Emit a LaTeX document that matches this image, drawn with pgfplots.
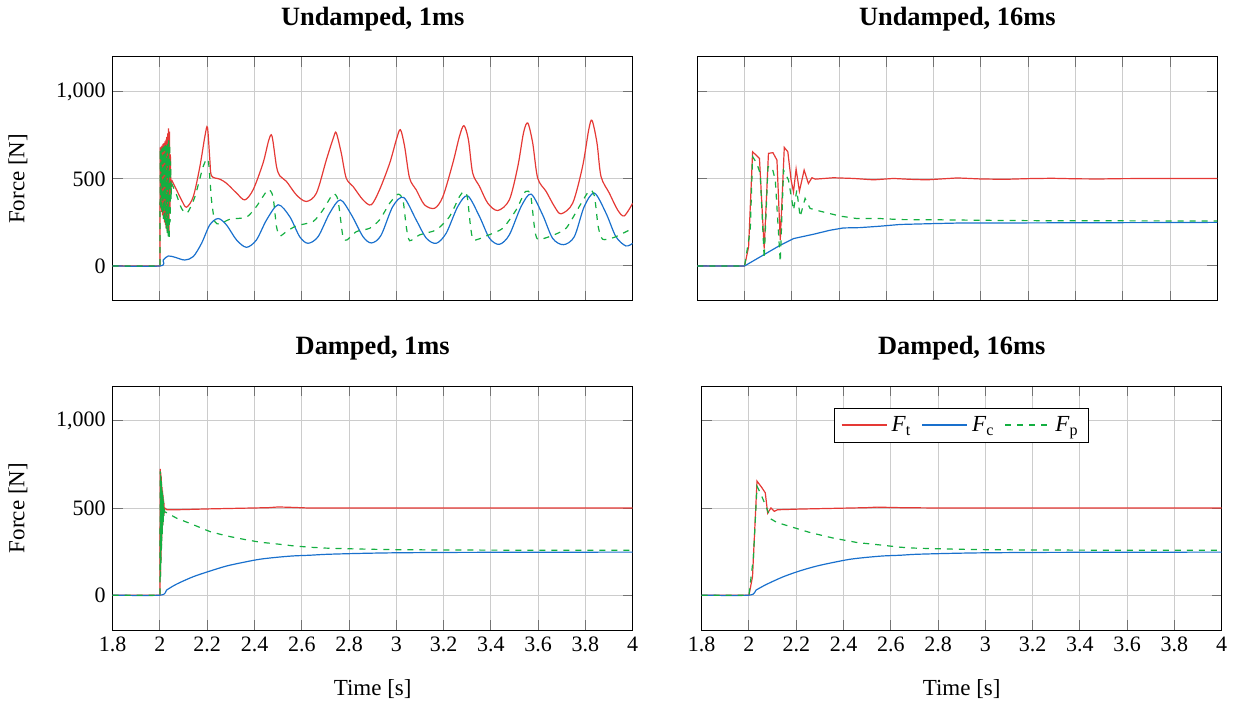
\documentclass[border=0pt]{standalone}
\usepackage{fontspec}
\setmainfont{Liberation Serif}
\usepackage{pgfplots}
\pgfplotsset{compat=1.18}

\definecolor{ftred}{RGB}{229,57,53}
\definecolor{fcblue}{RGB}{25,112,205}
\definecolor{fpgreen}{RGB}{20,175,65}

\pgfplotsset{
  panel/.style={
    scale only axis, width=260pt, height=122pt, anchor=south west,
    xmin=1.8, xmax=4, ymin=-200, ymax=1200,
    xtick={1.8,2,2.2,2.4,2.6,2.8,3,3.2,3.4,3.6,3.8,4},
    ytick={0,500,1000},
    grid=major, major grid style={black!20, line width=0.5pt},
    major tick length=5pt,
    tick style={black!55, line width=0.5pt},
    axis line style={line width=0.5pt},
    /pgf/number format/assume math mode=true,
    tick label style={font=\fontsize{11}{13}\selectfont},
    label style={font=\fontsize{11.5}{14}\selectfont},
    xlabel style={at={(axis description cs:0.5,-0.242)}, anchor=center},
    ylabel style={at={(axis description cs:-0.182,0.5)}, anchor=center},
    every axis title shift=0pt,
    title style={font=\fontsize{13.2}{16}\selectfont\bfseries, at={(0.5,1.155)}, anchor=center},
  },
}

\begin{document}
\begin{tikzpicture}

% ---------------- Undamped, 1ms
\begin{axis}[panel, at={(0pt,0pt)}, title={Undamped, 1ms}, ylabel={Force [N]}, xticklabels={}]
\addplot[color=ftred, line width=0.6pt] coordinates {
 (1.8,0) (2.0,0) (2.001,680) (2.003,330) (2.005,685) (2.007,310) (2.009,690) (2.011,290)
 (2.013,700) (2.015,270) (2.017,705) (2.019,250) (2.021,715) (2.023,235) (2.025,725)
 (2.027,215) (2.029,740) (2.031,200) (2.033,760) (2.035,185) (2.036,790) (2.038,170)
 (2.040,770) (2.042,300) (2.044,640) (2.046,420) (2.049,494)
};
\addplot[color=ftred, line width=0.6pt, smooth, tension=0.5] coordinates {
 (2.049,494) (2.056,475) (2.070,437) (2.091,379) (2.112,337) (2.141,398) (2.169,571)
 (2.190,743) (2.201,795) (2.211,609) (2.218,517) (2.253,498) (2.281,475) (2.324,418)
 (2.359,379) (2.394,437) (2.436,590) (2.460,720) (2.474,745) (2.493,571) (2.507,517)
 (2.535,485) (2.577,408) (2.619,370) (2.662,418) (2.704,609) (2.735,740) (2.746,763)
 (2.767,648) (2.788,504) (2.817,456) (2.859,379) (2.894,351) (2.929,437) (2.972,590)
 (3.000,724) (3.017,782) (3.035,686) (3.056,504) (3.084,437) (3.119,351) (3.162,331)
 (3.197,398) (3.239,590) (3.267,743) (3.286,805) (3.305,724) (3.323,533) (3.352,456)
 (3.387,360) (3.429,318) (3.478,379) (3.514,571) (3.538,763) (3.556,820) (3.577,705)
 (3.598,504) (3.634,427) (3.669,341) (3.697,299) (3.746,360) (3.788,571) (3.814,782)
 (3.828,835) (3.849,705) (3.866,513) (3.901,418) (3.936,322) (3.964,287) (4.0,360)
};
\addplot[color=fcblue, line width=0.6pt, smooth, tension=0.5] coordinates {
 (1.8,0) (2.0,0) (2.014,34) (2.035,57) (2.063,50) (2.105,34) (2.141,54) (2.176,130)
 (2.211,236) (2.246,272) (2.281,236) (2.324,149) (2.366,107) (2.408,149) (2.451,264)
 (2.500,351) (2.549,283) (2.591,168) (2.626,130) (2.669,168) (2.718,303) (2.763,379)
 (2.810,293) (2.859,168) (2.895,132) (2.935,175) (2.985,341) (3.031,393) (3.084,264)
 (3.127,159) (3.169,130) (3.211,188) (3.260,341) (3.302,402) (3.352,283) (3.394,159)
 (3.436,124) (3.478,178) (3.528,341) (3.570,412) (3.619,293) (3.661,159) (3.707,122)
 (3.753,168) (3.795,341) (3.838,418) (3.887,303) (3.929,168) (3.971,115) (4.0,130)
};
\addplot[color=fpgreen, line width=0.6pt, dashed] coordinates {
 (1.8,0) (2.0,0) (2.001,670) (2.003,330) (2.005,672) (2.007,310) (2.009,675) (2.011,290)
 (2.013,680) (2.015,270) (2.017,685) (2.019,250) (2.021,690) (2.023,230) (2.025,695)
 (2.027,210) (2.029,700) (2.031,190) (2.033,710) (2.035,170) (2.037,720) (2.039,150)
 (2.041,700) (2.043,250) (2.045,600) (2.047,380) (2.049,475)
};
\addplot[color=fpgreen, line width=0.6pt, dashed, smooth, tension=0.4] coordinates {
 (2.049,475) (2.070,408) (2.091,331) (2.115,303) (2.148,398) (2.183,571) (2.204,609)
 (2.218,379) (2.232,255) (2.253,241) (2.296,268) (2.366,280) (2.408,341) (2.457,437)
 (2.478,398) (2.493,226) (2.507,172) (2.535,197) (2.577,230) (2.648,255) (2.690,322)
 (2.732,412) (2.753,379) (2.774,168) (2.791,149) (2.831,197) (2.887,216) (2.929,264)
 (2.972,360) (3.007,412) (3.028,379) (3.042,226) (3.056,145) (3.098,178) (3.169,207)
 (3.225,283) (3.267,398) (3.286,427) (3.300,398) (3.314,226) (3.327,149) (3.380,172)
 (3.450,216) (3.507,322) (3.546,427) (3.568,408) (3.584,226) (3.598,153) (3.655,172)
 (3.718,216) (3.774,341) (3.817,433) (3.838,402) (3.854,226) (3.873,153) (3.922,164)
 (4.0,216)
};
\end{axis}

% ---------------- Undamped, 16ms
\begin{axis}[panel, at={(292.3pt,0pt)}, title={Undamped, 16ms}, xticklabels={}, yticklabels={}]
\addplot[color=ftred, line width=0.6pt] coordinates {
 (1.8,0) (2.0,0) (2.017,109) (2.034,655) (2.063,617) (2.083,100) (2.101,646) (2.120,650)
 (2.137,607) (2.151,148) (2.168,680) (2.183,655) (2.197,492) (2.207,425) (2.218,556)
 (2.232,429) (2.252,550) (2.270,473) (2.285,506) (2.299,498) (2.376,506) (2.461,502)
 (2.546,494) (2.630,502) (2.700,497) (2.770,494) (2.900,505) (3.000,499) (3.100,497)
 (3.200,501) (3.300,503) (3.400,500) (3.500,499) (3.600,501) (3.800,502) (4.0,502)
};
\addplot[color=fcblue, line width=0.6pt] coordinates {
 (1.8,0) (2.0,0) (2.066,52) (2.151,119) (2.207,157) (2.292,182) (2.362,205) (2.418,218)
 (2.489,220) (2.573,228) (2.658,238) (2.800,243) (2.900,246) (3.000,246) (3.200,247)
 (3.500,248) (4.0,250)
};
\addplot[color=fpgreen, line width=0.6pt, dashed] coordinates {
 (1.8,0) (2.0,0) (2.024,205) (2.034,627) (2.052,588) (2.066,531) (2.083,42) (2.099,569)
 (2.116,569) (2.130,492) (2.151,23) (2.165,550) (2.186,492) (2.207,320) (2.221,435)
 (2.235,282) (2.256,387) (2.277,330) (2.320,314) (2.404,286) (2.475,272) (2.573,272)
 (2.658,266) (2.800,265) (3.000,262) (3.200,260) (3.500,259) (4.0,258)
};
\end{axis}

% ---------------- Damped, 1ms
\begin{axis}[panel, at={(0pt,-164.6pt)}, title={Damped, 1ms}, ylabel={Force [N]}, xlabel={Time [s]}]
\addplot[color=ftred, line width=0.6pt] coordinates {
 (1.8,0) (2.0,0) (2.001,725) (2.002,110) (2.003,705) (2.004,200) (2.005,680) (2.006,270)
 (2.007,650) (2.008,330) (2.009,620) (2.010,370) (2.011,600) (2.012,400) (2.013,575)
 (2.014,430) (2.015,550) (2.016,455) (2.017,530) (2.018,470) (2.020,500) (2.030,490)
 (2.070,490) (2.210,495) (2.390,500) (2.460,502) (2.500,506) (2.550,504) (2.630,500)
 (3.0,500) (4.0,500)
};
\addplot[color=fcblue, line width=0.6pt, smooth] coordinates {
 (1.8,0) (2.0,0) (2.028,29) (2.070,63) (2.141,106) (2.211,138) (2.281,167) (2.352,188)
 (2.422,206) (2.493,217) (2.563,225) (2.634,229) (2.700,234) (2.800,238) (2.900,241)
 (3.000,243) (3.200,245) (3.500,246) (4.0,247)
};
\addplot[color=fpgreen, line width=0.6pt, dashed] coordinates {
 (1.8,0) (2.0,0) (2.001,710) (2.002,105) (2.003,690) (2.004,180) (2.005,660) (2.006,250)
 (2.007,640) (2.008,310) (2.009,610) (2.010,350) (2.011,590) (2.012,390) (2.013,565)
 (2.014,420) (2.015,540) (2.016,450) (2.018,490) (2.020,479) (2.070,442) (2.141,404)
 (2.211,365) (2.281,340) (2.352,321) (2.422,304) (2.493,294) (2.563,283) (2.634,275)
 (2.700,270) (2.800,266) (2.900,263) (3.000,261) (3.200,259) (3.500,258) (4.0,258)
};
\end{axis}

% ---------------- Damped, 16ms
\begin{axis}[panel, at={(294.5pt,-164.6pt)}, title={Damped, 16ms}, xlabel={Time [s]}, yticklabels={},
  legend columns=3,
  legend style={at={(0.5,0.91)}, anchor=north,
    font=\fontsize{11.5}{14}\selectfont,
    /tikz/every even column/.append style={column sep=3pt}},
  legend image code/.code={\draw[#1, line width=0.9pt] (0pt,0pt) -- (22.5pt,0pt);},
]
\addplot[color=ftred, line width=0.6pt] coordinates {
 (1.8,0) (2.0,0) (2.015,106) (2.034,654) (2.055,616) (2.069,587) (2.079,471) (2.093,500)
 (2.107,481) (2.121,490) (2.217,494) (2.358,498) (2.499,502) (2.541,505) (2.640,502)
 (2.800,500) (3.0,500) (4.0,500)
};
\addlegendentry{\textit{F}\textsubscript{t}}
\addplot[color=fcblue, line width=0.6pt, smooth] coordinates {
 (1.8,0) (2.0,0) (2.030,29) (2.076,63) (2.146,106) (2.217,140) (2.287,167) (2.358,188)
 (2.428,206) (2.499,217) (2.569,225) (2.640,229) (2.700,234) (2.800,238) (2.900,241)
 (3.000,243) (3.200,245) (3.500,246) (4.0,247)
};
\addlegendentry{\textit{F}\textsubscript{c}}
\addplot[color=fpgreen, line width=0.6pt, dashed] coordinates {
 (1.8,0) (2.0,0) (2.019,221) (2.034,625) (2.048,587) (2.069,519) (2.083,471) (2.093,437)
 (2.118,417) (2.174,394) (2.259,359) (2.358,327) (2.457,302) (2.555,288) (2.640,275)
 (2.700,270) (2.800,266) (2.900,263) (3.000,261) (3.200,259) (3.500,258) (4.0,258)
};
\addlegendentry{\textit{F}\textsubscript{p}}
\end{axis}

% page size, as in the reference
\path (-56.35pt,-201.6pt) rectangle (562.15pt,150.4pt);
\end{tikzpicture}
\end{document}
